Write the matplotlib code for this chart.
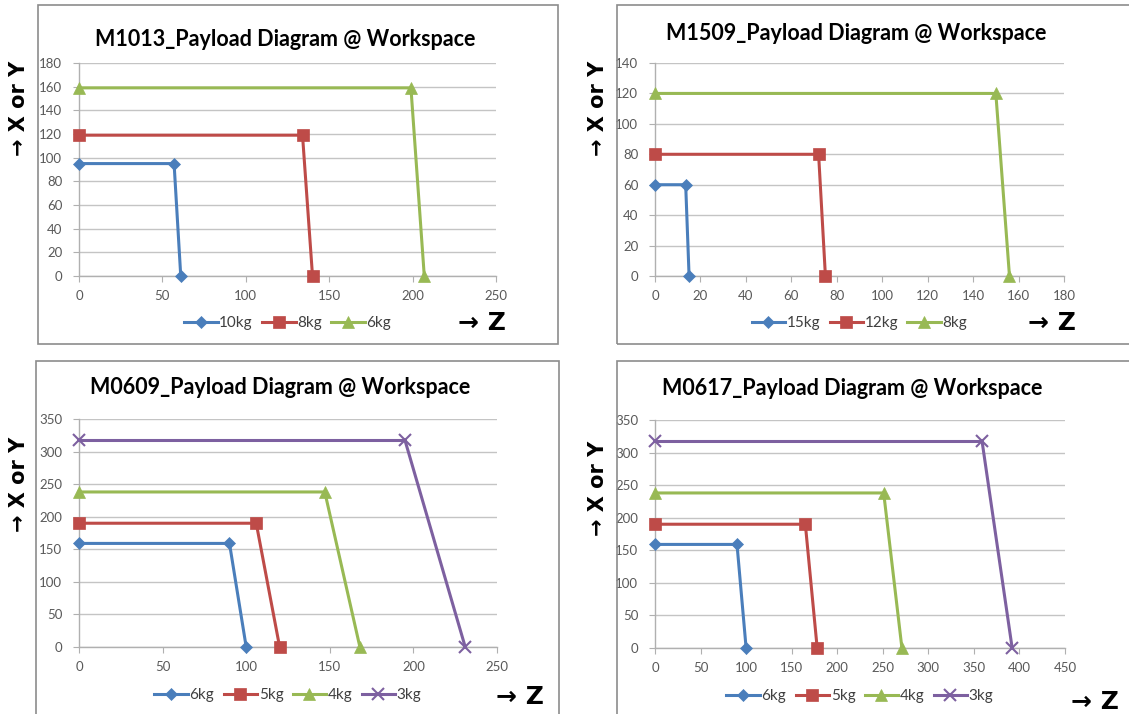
import numpy as np
import matplotlib
matplotlib.use("Agg")
from matplotlib import pyplot as plt
from matplotlib.patches import Rectangle

# ---- data ------------------------------------------------------------------
# M1013
m1013_labels = ['10kg', '8kg', '6kg']
m1013_z = [[0, 57, 61], [0, 134, 140], [0, 199, 207]]
m1013_xy = [[95, 95, 0], [119, 119, 0], [159, 159, 0]]

# M1509
m1509_labels = ['15kg', '12kg', '8kg']
m1509_z = [[0, 13.5, 15], [0, 72, 75], [0, 150, 156]]
m1509_xy = [[60, 60, 0], [80, 80, 0], [120, 120, 0]]

# M0609
m0609_labels = ['6kg', '5kg', '4kg', '3kg']
m0609_z = [[0, 90, 100], [0, 106, 120], [0, 147, 168], [0, 195, 231]]
m0609_xy = [[159, 159, 0], [190, 190, 0], [238, 238, 0], [317, 317, 0]]

# M0617
m0617_labels = ['6kg', '5kg', '4kg', '3kg']
m0617_z = [[0, 90, 100], [0, 165, 178], [0, 251, 271], [0, 359, 392]]
m0617_xy = [[159, 159, 0], [190, 190, 0], [238, 238, 0], [317, 317, 0]]

colors = ['#4A7EBB', '#BE4B48', '#98B954', '#7D60A0']
markers = ['D', 's', '^', 'x']
msizes = [6, 8, 8, 8]

W, H = 1129, 714
fig = plt.figure(figsize=(W / 100, H / 100), dpi=100)
FONT = ['Lato', 'DejaVu Sans']
ARROW_FONT = ['DejaVu Sans']


def px_axes(x0, x1, ytop, ybot):
    return fig.add_axes([x0 / W, 1 - ybot / H, (x1 - x0) / W, (ybot - ytop) / H])


def panel(box, area, title, title_xy, zs, xys, labels, xmax, xstep, ymax, ystep,
          leg_y, zpos, ylab_pos):
    # outer chart frame
    bx0, by0, bx1, by1 = box
    fig.patches.append(Rectangle((bx0 / W, 1 - by1 / H), (bx1 - bx0) / W, (by1 - by0) / H,
                                 transform=fig.transFigure, fill=False,
                                 edgecolor='#8c8c8c', linewidth=1.2))
    ax = px_axes(*area)
    for i, (z, xy) in enumerate(zip(zs, xys)):
        ax.plot(z, xy, color=colors[i], lw=2.2, marker=markers[i], ms=msizes[i],
                mew=1.5 if markers[i] == 'x' else 0.5, mec=colors[i],
                label=labels[i], clip_on=False, zorder=3)
    ax.set_xlim(0, xmax)
    ax.set_ylim(0, ymax)
    ax.set_xticks(np.arange(0, xmax + 1, xstep))
    ax.set_yticks(np.arange(0, ymax + 1, ystep))
    ax.grid(axis='y', color='#c4c4c4', lw=1)
    ax.set_axisbelow(True)
    for s in ['top', 'right']:
        ax.spines[s].set_visible(False)
    for s in ['left', 'bottom']:
        ax.spines[s].set_color('#b0b0b0')
        ax.spines[s].set_linewidth(1)
    ax.tick_params(colors='#b0b0b0', labelcolor='#595959', labelsize=9.5, length=4,
                   direction='out')
    ax.tick_params(axis='y', pad=8)
    ax.tick_params(axis='x', pad=6)
    for lab in ax.get_xticklabels() + ax.get_yticklabels():
        lab.set_family(FONT)

    fig.text(title_xy[0] / W, 1 - title_xy[1] / H, title, ha='center', va='center',
             fontsize=15.5, fontweight='bold', family=FONT)
    leg = ax.legend(loc='center', bbox_to_anchor=(0.5, leg_y), ncol=len(labels),
                    frameon=False, handlelength=2.2, columnspacing=0.6,
                    handletextpad=0.1, prop={'family': FONT, 'size': 11})
    for t in leg.get_texts():
        t.set_color('#404040')
    fig.text(zpos[0] / W, 1 - zpos[1] / H, '\u2192 Z', ha='center', va='center',
             fontsize=18, fontweight='bold', family=ARROW_FONT)
    fig.text(ylab_pos[0] / W, 1 - ylab_pos[1] / H, '\u2192 X or Y', ha='center',
             va='center', rotation=90, fontsize=15, fontweight='bold',
             family=ARROW_FONT)
    return ax


panel((38, 5, 558, 344), (79, 496, 63, 276), 'M1013_Payload Diagram @ Workspace',
      (285, 39), m1013_z, m1013_xy, m1013_labels, 250, 50, 180, 20, -0.22,
      (482, 323), (19, 108))
panel((617, 5, 1135, 344), (655, 1064, 63, 276), 'M1509_Payload Diagram @ Workspace',
      (856, 33), m1509_z, m1509_xy, m1509_labels, 180, 20, 140, 20, -0.22,
      (1052, 323), (598, 108))
panel((36, 361, 559, 720), (79, 497, 419, 647), 'M0609_Payload Diagram @ Workspace',
      (280, 388), m0609_z, m0609_xy, m0609_labels, 250, 50, 350, 50, -0.21,
      (520, 697), (19, 484))
panel((617, 361, 1135, 720), (655, 1065, 420, 648), 'M0617_Payload Diagram @ Workspace',
      (852, 389), m0617_z, m0617_xy, m0617_labels, 450, 50, 350, 50, -0.21,
      (1095, 702), (598, 488))

fig.savefig('out.png', dpi=100)
